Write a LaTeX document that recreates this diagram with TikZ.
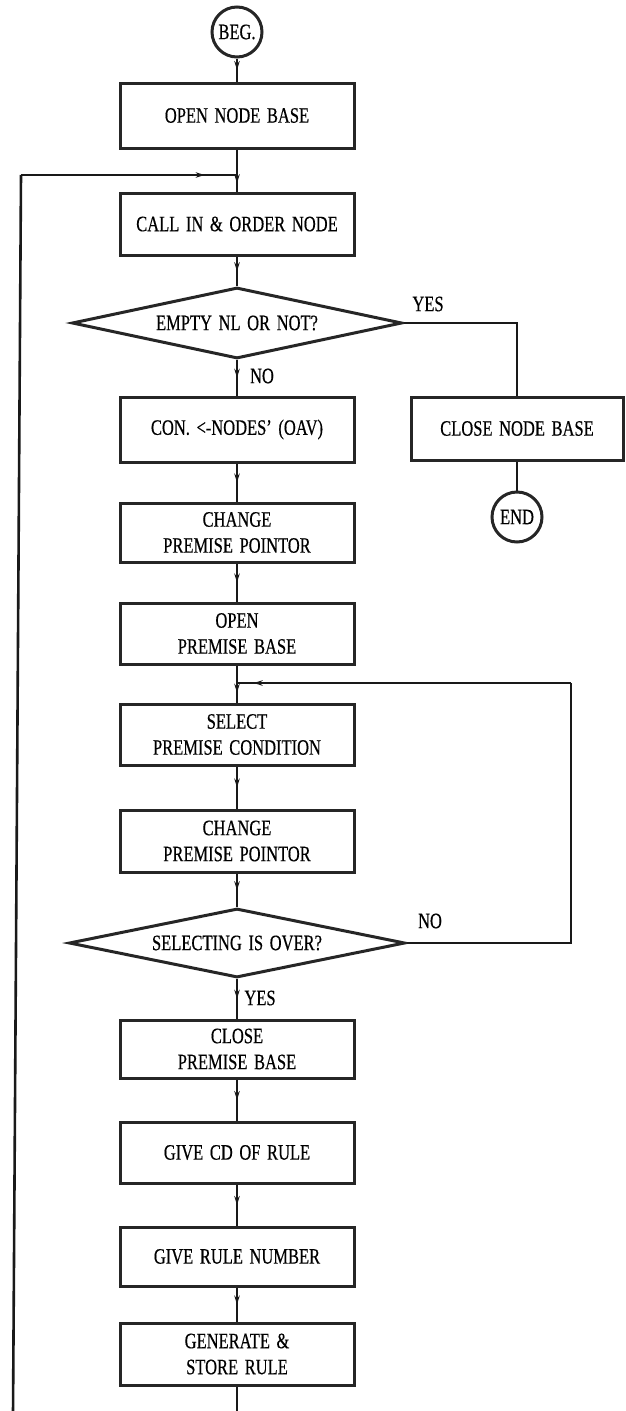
\documentclass[tikz,border=0pt]{standalone}
\usepackage{fontspec}
\setmainfont{Liberation Serif}[FakeStretch=0.75,WordSpace=1.6,FakeBold=0.4]
\usetikzlibrary{shapes.geometric,arrows.meta,decorations.markings}
\begin{document}
\begin{tikzpicture}[x=1pt,y=-1pt,
  font=\fontsize{22}{26}\selectfont,
  box/.style={draw=black!85, line width=3pt, rectangle, minimum width=234pt, inner sep=2pt, align=center},
  termin/.style={draw=black!85, line width=3pt, circle, minimum size=50pt, inner sep=0pt},
  decision/.style={draw=black!85, line width=3pt, diamond, inner sep=0pt, aspect=4.6},
  link/.style={draw=black!90, line width=2.6pt},
  midarrow/.style={postaction={decorate}, decoration={markings, mark=at position #1 with {\arrow{Stealth[length=9pt,width=5.5pt]}}}},
  midarrow/.default=0.5]
\useasboundingbox (0,0) rectangle (625,1411);

\node[termin] (beg) at (237,32) {BEG.};
\node[box, minimum height=65pt] (onb) at (237,115.5) {OPEN NODE BASE};
\coordinate (j1) at (237,175);
\coordinate (lt) at (21,175);
\coordinate (lb) at (13,1415);
\node[box, minimum height=62pt] (call) at (237,224) {CALL IN \& ORDER NODE};
\node[decision, minimum width=330pt, minimum height=71pt] (d1) at (237,323) {EMPTY NL OR NOT?};
\node (yes1) at (428,304) {YES};
\node (no1) at (262,376) {NO};
\coordinate (c1) at (517,323);
\node[box, minimum height=65pt] (con) at (237,429.5) {CON. <-NODES' (OAV)};
\node[box, minimum width=212pt, minimum height=63pt] (cnb) at (517,428.5) {CLOSE NODE BASE};
\node[termin] (end) at (517,517) {END};
\node[box, minimum height=59pt] (chg1) at (237,532.5) {CHANGE\\PREMISE POINTOR};
\node[box, minimum height=61pt] (opb) at (237,633.5) {OPEN\\PREMISE BASE};
\coordinate (j2) at (237,683);
\node[box, minimum height=61pt] (sel) at (237,734.5) {SELECT\\PREMISE CONDITION};
\node[box, minimum height=62pt] (chg2) at (237,841) {CHANGE\\PREMISE POINTOR};
\node[decision, minimum width=336pt, minimum height=69pt] (d2) at (237,943) {SELECTING IS OVER?};
\node (no2) at (430,921) {NO};
\coordinate (c2) at (571,943);
\coordinate (c3) at (571,683);
\node (yes2) at (260,998) {YES};
\node[box, minimum height=58pt] (cpb) at (237,1049) {CLOSE\\PREMISE BASE};
\node[box, minimum height=61pt] (gcd) at (237,1152.5) {GIVE CD OF RULE};
\node[box, minimum height=59pt] (grn) at (237,1256.5) {GIVE RULE NUMBER};
\node[box, minimum height=62pt] (gen) at (237,1354) {GENERATE \&\\STORE RULE};
\coordinate (bot) at (237,1415);

\draw[link, midarrow] (beg) -- (onb);
\draw[link] (onb) -- (j1);
\draw[link, midarrow] (j1) -- (call);
\draw[link] (lb) -- (lt);
\draw[link, midarrow=0.85] (lt) -- (j1);
\draw[link, midarrow] (call) -- (d1);
\draw[link, midarrow] (d1) -- (con);
\draw[link] (d1.east) -- (c1) -- (cnb.north);
\draw[link] (cnb) -- (end);
\draw[link, midarrow] (con) -- (chg1);
\draw[link, midarrow] (chg1) -- (opb);
\draw[link] (opb) -- (j2);
\draw[link, midarrow] (j2) -- (sel);
\draw[link, midarrow] (sel) -- (chg2);
\draw[link, midarrow] (chg2) -- (d2);
\draw[link] (d2.east) -- (c2) -- (c3);
\draw[link, midarrow=0.95] (c3) -- (j2);
\draw[link, midarrow] (d2) -- (cpb);
\draw[link, midarrow] (cpb) -- (gcd);
\draw[link, midarrow] (gcd) -- (grn);
\draw[link, midarrow] (grn) -- (gen);
\draw[link] (gen) -- (bot);
\end{tikzpicture}
\end{document}
